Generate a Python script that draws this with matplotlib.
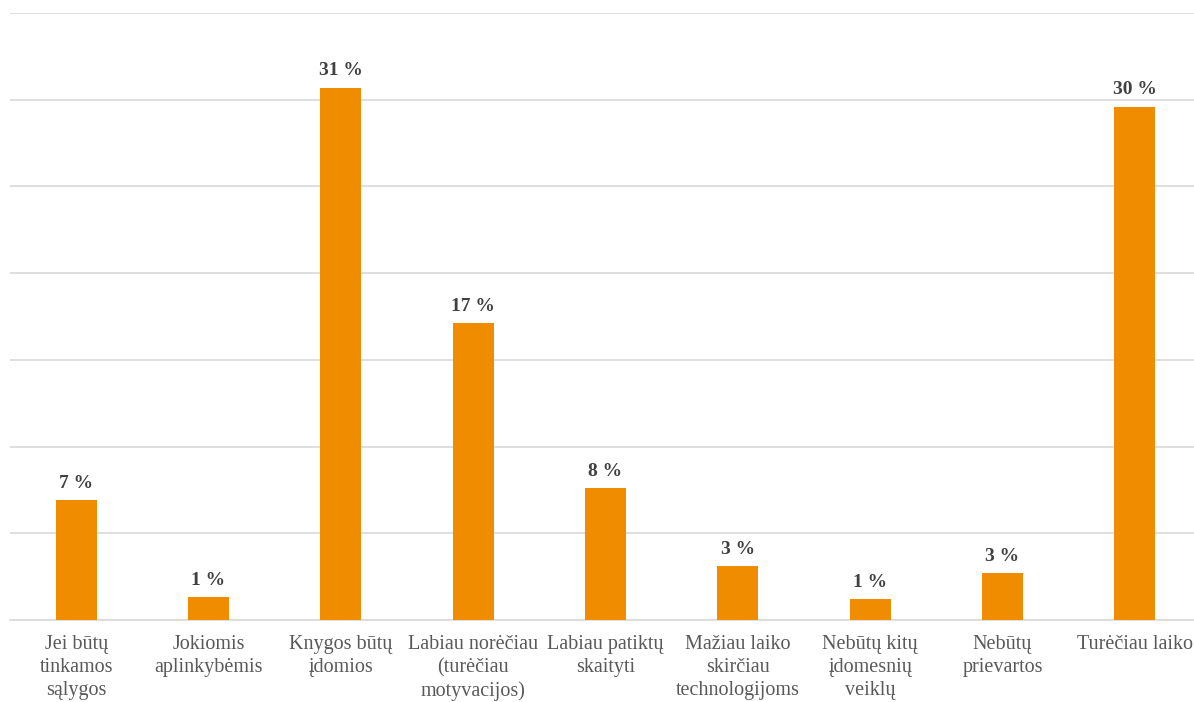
import matplotlib
matplotlib.use("Agg")
import matplotlib.pyplot as plt

categories = [
    "Jei būtų\ntinkamos\nsąlygos",
    "Jokiomis\naplinkybėmis",
    "Knygos būtų\nįdomios",
    "Labiau norėčiau\n(turėčiau\nmotyvacijos)",
    "Labiau patiktų\nskaityti",
    "Mažiau laiko\nskirčiau\ntechnologijoms",
    "Nebūtų kitų\nįdomesnių\nveiklų",
    "Nebūtų\nprievartos",
    "Turėčiau laiko",
]
values = [6.9, 1.3, 30.7, 17.1, 7.6, 3.1, 1.2, 2.7, 29.6]

W, H = 1194, 702
fig = plt.figure(figsize=(W / 100, H / 100), dpi=100)
ax = fig.add_axes([10 / W, 82 / H, 1191 / W, 607 / H])

x = list(range(len(categories)))
bars = ax.bar(x, values, width=0.31, color="#F08C00", zorder=3)
ax.set_xlim(-0.5, len(categories) - 0.5)
ax.set_ylim(0, 35)
ax.set_yticks(range(0, 36, 5))
ax.yaxis.grid(True, color="#D9D9D9", linewidth=1.2, zorder=0)
ax.tick_params(axis="y", left=False, labelleft=False)
ax.tick_params(axis="x", bottom=False, pad=7)
for s in ["top", "right", "left"]:
    ax.spines[s].set_visible(False)
ax.spines["bottom"].set_color("#D9D9D9")
ax.spines["bottom"].set_linewidth(1.2)

ax.set_xticks(x)
ax.set_xticklabels(categories, fontfamily="Liberation Serif", fontsize=14.5,
                   color="#595959", linespacing=1.3, va="top")

for xi, v in zip(x, values):
    ax.annotate(f"{round(v)} %", (xi, v), xytext=(0, 6), textcoords="offset points",
                ha="center", va="bottom", fontfamily="Liberation Serif",
                fontweight="bold", fontsize=14, color="#404040")

fig.savefig("out.png", dpi=100)
